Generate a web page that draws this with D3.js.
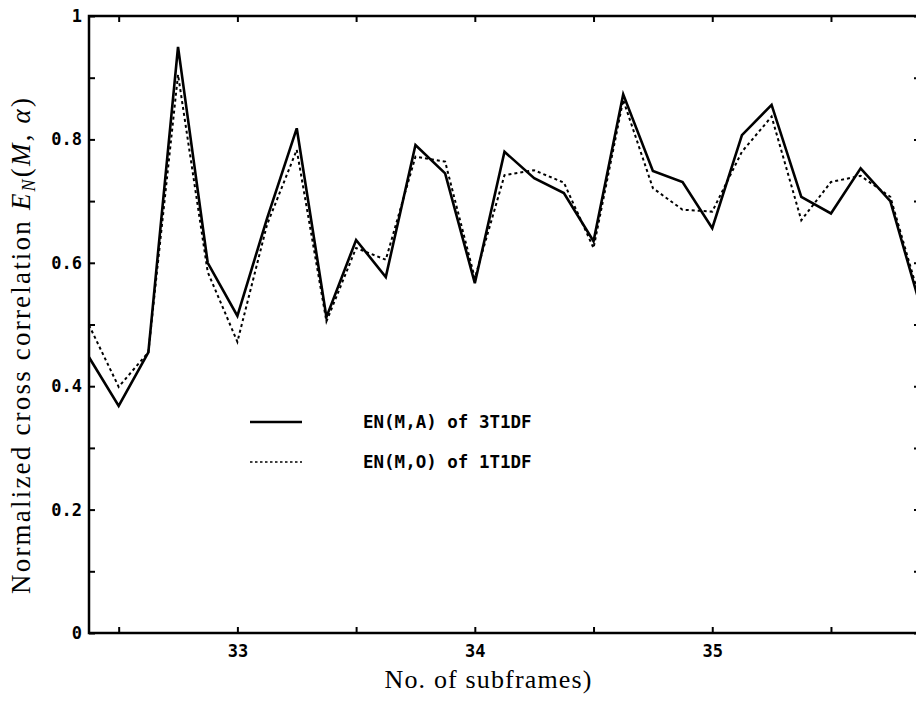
<!DOCTYPE html>
<html>
<head>
<meta charset="utf-8">
<script src="https://cdn.jsdelivr.net/npm/d3@7"></script>
<style>
  html, body { margin: 0; padding: 0; background: #fff; }
  svg { display: block; }
  .tick text { font-family: "DejaVu Sans Mono", monospace; font-weight: bold; font-size: 17px; fill: #000; }
</style>
</head>
<body>
<svg id="chart"></svg>
<script>
// subframe positions, one point every 1/8 subframe
const subframes = d3.range(29).map(k => 32.375 + k / 8)

// EN(M,A) of 3T1DF (solid)
const en3T1DF = [0.447, 0.368, 0.455, 0.950, 0.600, 0.514, 0.672, 0.818, 0.512, 0.637,
    0.577, 0.791, 0.745, 0.567, 0.780, 0.737, 0.713, 0.635, 0.873, 0.749,
    0.731, 0.656, 0.807, 0.856, 0.707, 0.680, 0.753, 0.700, 0.532]

// EN(M,0) of 1T1DF (dotted)
const en1T1DF = [0.499, 0.399, 0.455, 0.905, 0.585, 0.472, 0.662, 0.783, 0.505, 0.624,
    0.605, 0.772, 0.764, 0.575, 0.742, 0.750, 0.730, 0.624, 0.864, 0.721,
    0.686, 0.683, 0.780, 0.837, 0.669, 0.731, 0.741, 0.707, 0.540]

const xMajorTicks = [33, 34, 35]
const xMinorTicks = [32.5, 33.5, 34.5, 35.5]
const yMajorTicks = [0, 0.2, 0.4, 0.6, 0.8, 1]
const yTickLabels = ["0", "0.2", "0.4", "0.6", "0.8", "1"]
const yMinorTicks = [0.1, 0.3, 0.5, 0.7, 0.9]

const legendLabels = ["EN(M,A) of 3T1DF", "EN(M,O) of 1T1DF"]

const width = 916
const height = 701
const margin = { top: 16, right: -4, bottom: 68, left: 89 }

const svg = d3.select('#chart')
    .attr('width', width)
    .attr('height', height)

const x = d3.scaleLinear()
    .domain([32.375, 35.875])
    .range([margin.left, width - margin.right])

const y = d3.scaleLinear()
    .domain([0, 1])
    .range([height - margin.bottom, margin.top])

// bottom axis, ticks point into the plot
svg.append('g')
    .attr('transform', `translate(0,${y(0)})`)
    .call(d3.axisBottom(x).tickValues(xMajorTicks).tickSizeInner(-6).tickSizeOuter(0).tickPadding(12).tickFormat(d3.format('d')))
    .call(g => g.select('.domain').remove())
svg.append('g')
    .attr('transform', `translate(0,${y(0)})`)
    .call(d3.axisBottom(x).tickValues(xMinorTicks).tickSizeInner(-6).tickSizeOuter(0).tickFormat(''))
    .call(g => g.select('.domain').remove())

// top axis, no labels
svg.append('g')
    .attr('transform', `translate(0,${y(1)})`)
    .call(d3.axisBottom(x).tickValues(xMajorTicks.concat(xMinorTicks)).tickSizeInner(6).tickSizeOuter(0).tickFormat(''))
    .call(g => g.select('.domain').remove())

// left axis
svg.append('g')
    .attr('transform', `translate(${x.range()[0]},0)`)
    .call(d3.axisLeft(y).tickValues(yMajorTicks).tickSizeInner(-6).tickSizeOuter(0).tickPadding(7)
        .tickFormat((d, i) => yTickLabels[i]))
    .call(g => g.select('.domain').remove())
svg.append('g')
    .attr('transform', `translate(${x.range()[0]},0)`)
    .call(d3.axisLeft(y).tickValues(yMinorTicks).tickSizeInner(-6).tickSizeOuter(0).tickFormat(''))
    .call(g => g.select('.domain').remove())

// right axis (mostly outside the picture)
svg.append('g')
    .attr('transform', `translate(${x.range()[1]},0)`)
    .call(d3.axisRight(y).tickValues(yMajorTicks.concat(yMinorTicks)).tickSizeInner(-6).tickSizeOuter(0).tickFormat(''))
    .call(g => g.select('.domain').remove())

svg.selectAll('.tick line').attr('stroke', '#000').attr('stroke-width', 2)

// frame
svg.append('rect')
    .attr('x', x.range()[0])
    .attr('y', y(1))
    .attr('width', x.range()[1] - x.range()[0])
    .attr('height', y(0) - y(1))
    .attr('fill', 'none')
    .attr('stroke', '#000')
    .attr('stroke-width', 2.5)

const line = d3.line()
    .x((d, i) => x(subframes[i]))
    .y(d => y(d))

svg.append('path')
    .datum(en1T1DF)
    .attr('fill', 'none')
    .attr('stroke', '#000')
    .attr('stroke-width', 2)
    .attr('stroke-dasharray', '3,3')
    .attr('d', line)

svg.append('path')
    .datum(en3T1DF)
    .attr('fill', 'none')
    .attr('stroke', '#000')
    .attr('stroke-width', 2.6)
    .attr('stroke-linejoin', 'miter')
    .attr('d', line)

// legend
const legend = svg.append('g')
legendLabels.forEach((label, i) => {
    const ly = 422 + i * 40
    legend.append('line')
        .attr('x1', 250).attr('x2', 302)
        .attr('y1', ly).attr('y2', ly)
        .attr('stroke', '#000')
        .attr('stroke-width', i === 0 ? 2.6 : 1.6)
        .attr('stroke-dasharray', i === 0 ? null : '2.5,2.5')
    legend.append('text')
        .attr('x', 363).attr('y', ly)
        .attr('dy', '0.36em')
        .attr('font-family', '"DejaVu Sans Mono", monospace')
        .attr('font-weight', 'bold')
        .attr('font-size', 17.5)
        .text(label)
})

// axis titles
svg.append('text')
    .attr('x', 488)
    .attr('y', 688)
    .attr('text-anchor', 'middle')
    .attr('font-family', '"Liberation Serif", serif')
    .attr('font-size', 26)
    .attr('textLength', 207)
    .text('No. of subframes)')

const yTitle = svg.append('text')
    .attr('transform', 'translate(30,346) rotate(-90)')
    .attr('text-anchor', 'middle')
    .attr('font-family', '"Liberation Serif", serif')
    .attr('font-size', 27)
    .attr('textLength', 496)
yTitle.append('tspan').text('Normalized cross correlation ')
yTitle.append('tspan').attr('font-style', 'italic').text('E')
yTitle.append('tspan').attr('font-style', 'italic').attr('font-size', 18).attr('dy', 5).text('N')
yTitle.append('tspan').attr('dy', -5).text('(')
yTitle.append('tspan').attr('font-style', 'italic').text('M')
yTitle.append('tspan').text(', ')
yTitle.append('tspan').attr('font-style', 'italic').text('α')
yTitle.append('tspan').text(')')
</script>
</body>
</html>
